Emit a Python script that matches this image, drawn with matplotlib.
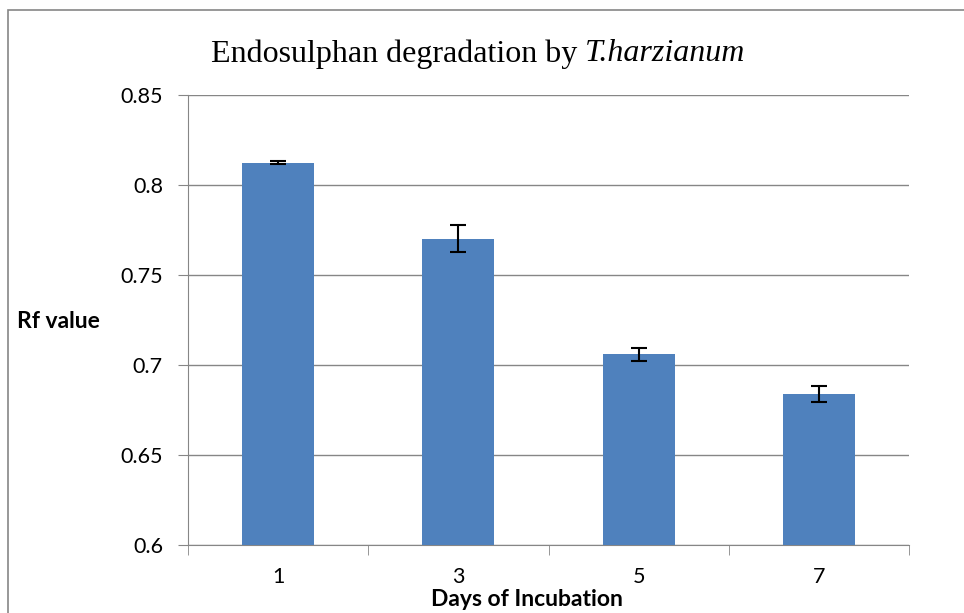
import numpy as np
import matplotlib.pyplot as plt
from matplotlib.patches import Rectangle

# data
days = ['1', '3', '5', '7']
rf_value = [0.8125, 0.770, 0.706, 0.684]
rf_error = [0.001, 0.0075, 0.0036, 0.0044]

fig = plt.figure(figsize=(9.64, 6.13), dpi=100)
ax = fig.add_axes([0.195, 0.111, 0.748, 0.734])

x = np.arange(len(days))
ax.bar(x, rf_value, width=0.4, color='#4F81BD', zorder=3)
ax.errorbar(x, rf_value, yerr=rf_error, fmt='none', ecolor='black',
            elinewidth=1.5, capsize=6, capthick=1.5, zorder=4)

ax.set_xlim(-0.5, len(days) - 0.5)
ax.set_ylim(0.6, 0.85)
ax.set_yticks([0.6, 0.65, 0.7, 0.75, 0.8, 0.85])
ax.set_yticklabels(['0.6', '0.65', '0.7', '0.75', '0.8', '0.85'])
ax.set_xticks(x)
ax.set_xticklabels(days)
ax.set_xticks(np.arange(-0.5, len(days)), minor=True)
ax.tick_params(axis='x', which='major', length=0, pad=16)
ax.tick_params(axis='x', which='minor', length=7, color='#868686', direction='out')
ax.tick_params(axis='y', length=7, color='#868686', direction='out', pad=11)
for lab in ax.get_xticklabels() + ax.get_yticklabels():
    lab.set_fontfamily('Lato')
    lab.set_fontsize(15.5)

ax.grid(axis='y', color='#868686', linewidth=1, zorder=0)
for s in ['top', 'right']:
    ax.spines[s].set_visible(False)
ax.spines['left'].set_color('#868686')
ax.spines['bottom'].set_color('#868686')

fig.text(0.607, 0.912, 'Endosulphan degradation by ', fontfamily='Liberation Serif',
         fontsize=23, ha='right', va='center')
fig.text(0.607, 0.912, 'T.harzianum', fontfamily='Liberation Serif', style='italic',
         fontsize=23, ha='left', va='center')
fig.text(0.018, 0.475, 'Rf value', fontfamily='Lato', fontweight='bold', fontsize=16.5,
         ha='left', va='center')
fig.text(0.547, 0.012, 'Days of Incubation', fontfamily='Lato', fontweight='bold',
         fontsize=16.5, ha='center', va='baseline')

# chart border
fig.patches.append(Rectangle((0.008, -0.01), 1.1, 0.994, transform=fig.transFigure,
                             fill=False, edgecolor='#868686', linewidth=1.2))

plt.savefig('out.png', dpi=100)
plt.close()
